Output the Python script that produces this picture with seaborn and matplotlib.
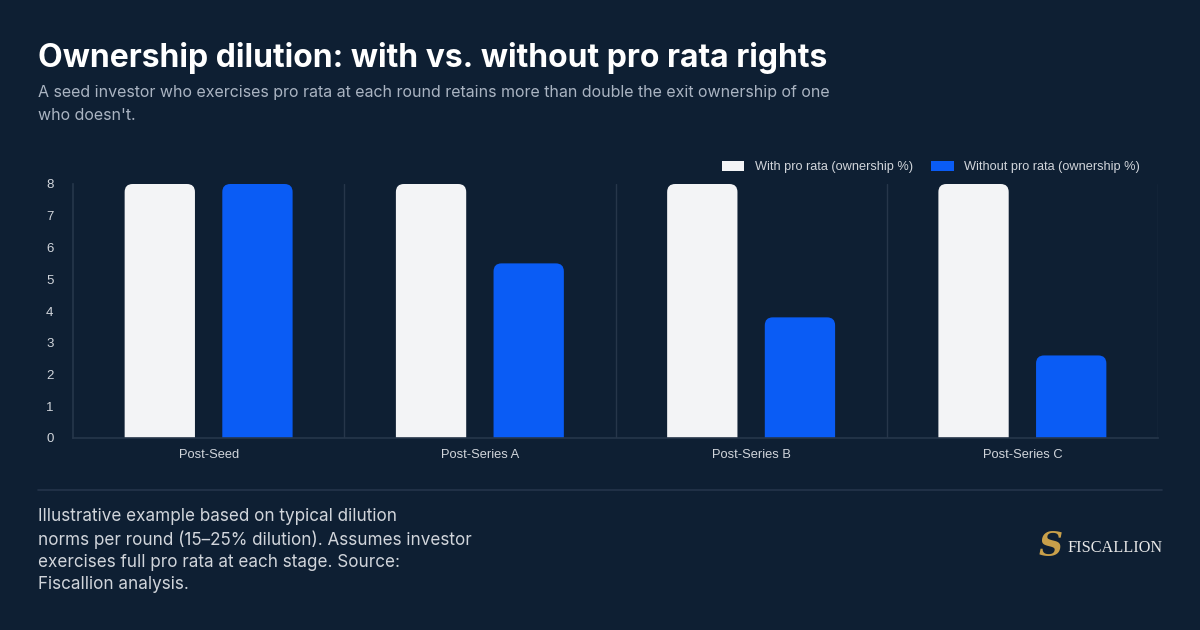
import pandas as pd
import seaborn as sns
import matplotlib.pyplot as plt
from matplotlib.patches import FancyBboxPatch, Patch
from matplotlib.lines import Line2D

# data
stages = ["Post-Seed", "Post-Series A", "Post-Series B", "Post-Series C"]
with_pro_rata = [8, 8, 8, 8]
without_pro_rata = [8, 5.5, 3.8, 2.6]
series_names = ["With pro rata (ownership %)", "Without pro rata (ownership %)"]
y_ticks = [0, 1, 2, 3, 4, 5, 6, 7, 8]

BG = "#0e1f33"
WHITE_BAR = "#f3f4f6"
BLUE_BAR = "#0a5cf5"
LINE = "#26364a"
TICK = "#d1d5db"
ARIAL = ["Liberation Sans", "DejaVu Sans"]

df = pd.DataFrame({
    "stage": stages * 2,
    "value": with_pro_rata + without_pro_rata,
    "series": [series_names[0]] * len(stages) + [series_names[1]] * len(stages),
})

sns.set_theme(style="dark")
plt.rcParams['font.family'] = ['Inter', 'DejaVu Sans']

W, H = 1200, 630
fig = plt.figure(figsize=(12, 6.3), dpi=100, facecolor=BG)
ax_l, ax_r, ax_t, ax_b = 73, 1158, 184, 438
ax = fig.add_axes([ax_l / W, 1 - ax_b / H, (ax_r - ax_l) / W, (ax_b - ax_t) / H])
ax.set_facecolor(BG)

sns.barplot(data=df, x="stage", y="value", hue="series",
            palette=[WHITE_BAR, BLUE_BAR], saturation=1,
            width=0.72, gap=0.28, linewidth=0, legend=False, ax=ax)

ax.set_xlim(-0.5, len(stages) - 0.5)
ax.set_ylim(0, 8)

# rounded tops: swap each bar for a rounded box, bottom corners hidden under the axis
x_per_px = len(stages) / (ax_r - ax_l)
y_per_px = 8 / (ax_b - ax_t)
radius = 8
for p in list(ax.patches):
    x, y, w, h = p.get_x(), p.get_y(), p.get_width(), p.get_height()
    ext = radius * 2 * y_per_px
    box = FancyBboxPatch((x, y - ext), w, h + ext,
                         boxstyle=f"round,pad=0,rounding_size={radius * x_per_px}",
                         mutation_aspect=y_per_px / x_per_px,
                         facecolor=p.get_facecolor(), edgecolor="none", zorder=2)
    ax.add_patch(box)
    p.remove()

for xv in [0.5, 1.5, 2.5, 3.5]:
    ax.axvline(xv, color=LINE, lw=1, zorder=1)

ax.grid(False)
for side in ["top", "right"]:
    ax.spines[side].set_visible(False)
for side in ["left", "bottom"]:
    ax.spines[side].set_color(LINE)
    ax.spines[side].set_linewidth(1.2)

ax.set_yticks(y_ticks)
ax.tick_params(axis="y", colors=TICK, labelsize=9.5, length=0, pad=14)
ax.tick_params(axis="x", colors=TICK, labelsize=9.3, length=0, pad=8)
for lab in ax.get_xticklabels() + ax.get_yticklabels():
    lab.set_family(ARIAL)
ax.set_xlabel("")
ax.set_ylabel("")

# legend
handles = [Patch(facecolor=WHITE_BAR, edgecolor="none"),
           Patch(facecolor=BLUE_BAR, edgecolor="none")]
leg = fig.legend(handles, series_names, loc="center right",
                 bbox_to_anchor=(1146 / W, 1 - 167 / H), ncol=2, frameon=False,
                 prop={"family": ARIAL, "size": 9.2}, handlelength=1.75, handleheight=0.8,
                 handletextpad=0.8, columnspacing=1.45, borderpad=0)
for t in leg.get_texts():
    t.set_color(TICK)

# title and subtitle
fig.text(38 / W, 1 - 58 / H, "Ownership dilution: with vs. without pro rata rights",
         color="white", fontsize=23, fontweight="bold", va="center", ha="left")
fig.text(38 / W, 1 - 85 / H,
         "A seed investor who exercises pro rata at each round retains more than double the exit ownership of one\nwho doesn't.",
         color="#aab4c2", fontsize=11.5, va="top", ha="left", linespacing=1.65)

# footer
fig.add_artist(Line2D([38 / W, 1162 / W], [1 - 490 / H, 1 - 490 / H],
                      color="#24344a", lw=1.2, transform=fig.transFigure))
fig.text(38 / W, 1 - 508 / H,
         "Illustrative example based on typical dilution\nnorms per round (15\u201325% dilution). Assumes investor\nexercises full pro rata at each stage. Source:\nFiscallion analysis.",
         color="#d1d5db", fontsize=12.3, va="top", ha="left", linespacing=1.38)

# logo
fig.text(1051 / W, 1 - 547 / H, "S", color="#c9a04a", fontsize=24, fontweight="bold",
         fontstyle="italic", family=["DejaVu Serif"], va="center", ha="center")
fig.text(1067 / W, 1 - 548 / H, "FISCALLION", color="#e8e8e8", fontsize=11.7,
         family=["Liberation Serif"], va="center", ha="left")

fig.savefig("out.png", dpi=100, facecolor=BG)
